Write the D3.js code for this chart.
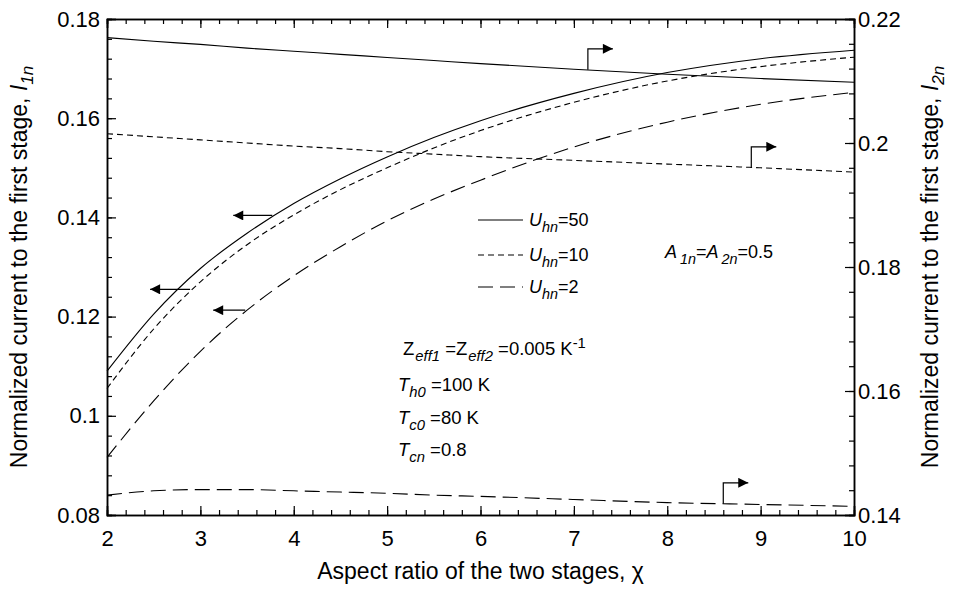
<!DOCTYPE html>
<meta charset="utf-8">
<html lang="en">
<head>
	<title>Normalized current vs aspect ratio</title>
	<script src="https://d3js.org/d3.v7.min.js" charset="utf-8"></script>
	<style>
		body { margin: 0; background: #fff; }
		text { font-family: Arial, "Liberation Sans", sans-serif; fill: #000; }
	</style>
</head>
<body>
	<script>
// data
var xs = [2, 2.5, 3, 3.5, 4, 4.5, 5, 5.5, 6, 7, 8, 9, 10];

// I1n (left axis), one per Uhn
var i1_u50 = [0.109, 0.1205, 0.1297, 0.1368, 0.1428, 0.1478, 0.1522, 0.1561, 0.1595, 0.1650, 0.1692, 0.1720, 0.1737];
var i1_u10 = [0.1055, 0.1175, 0.1270, 0.1345, 0.1405, 0.1456, 0.1500, 0.1540, 0.1575, 0.1632, 0.1675, 0.1704, 0.1723];
var i1_u2  = [0.0916, 0.1030, 0.1130, 0.1213, 0.1282, 0.1341, 0.1393, 0.1437, 0.1475, 0.1542, 0.1592, 0.1628, 0.1652];

// I2n (right axis)
var i2_u50 = [0.2170, 0.2164, 0.2159, 0.2153, 0.2148, 0.2143, 0.2138, 0.2133, 0.2128, 0.2119, 0.2111, 0.2104, 0.2098];
var i2_u10 = [0.2015, 0.2010, 0.2005, 0.2000, 0.1995, 0.1991, 0.1986, 0.1982, 0.1978, 0.1972, 0.1966, 0.1960, 0.1953];
var i2_u2  = [0.1432, 0.1439, 0.1441, 0.1441, 0.1439, 0.1437, 0.1435, 0.1432, 0.1430, 0.1425, 0.1420, 0.1417, 0.1414];

var xTicks = [2, 3, 4, 5, 6, 7, 8, 9, 10];
var yLeftTicks = [0.08, 0.1, 0.12, 0.14, 0.16, 0.18];
var yRightTicks = [0.14, 0.16, 0.18, 0.2, 0.22];

var width = 954, height = 589;
var margin = {top: 19, right: 100, bottom: 74, left: 107};

var svg = d3.select("body").append("svg")
    .attr("width", width)
    .attr("height", height);

var x = d3.scaleLinear().domain([2, 10]).range([margin.left, width - margin.right]);
var yL = d3.scaleLinear().domain([0.08, 0.18]).range([height - margin.bottom, margin.top]);
var yR = d3.scaleLinear().domain([0.14, 0.22]).range([height - margin.bottom, margin.top]);

var fmt = function(d) { return String(+d.toFixed(2)); };

// axes, ticks pointing inward
function minor(scale, step) {
  var d = scale.domain(), out = [];
  for (var v = d[0]; v <= d[1] + 1e-9; v += step) out.push(+v.toFixed(4));
  return out;
}

var gBottom = svg.append("g").attr("transform", "translate(0," + yL.range()[0] + ")");
gBottom.call(d3.axisBottom(x).tickValues(minor(x, 0.2)).tickSize(-5).tickFormat(""));
gBottom.append("g").call(d3.axisBottom(x).tickValues(xTicks).tickSize(-9).tickPadding(15).tickFormat(d3.format("d")));

var gTop = svg.append("g").attr("transform", "translate(0," + margin.top + ")");
gTop.call(d3.axisTop(x).tickValues(minor(x, 0.2)).tickSize(-5).tickFormat(""));
gTop.append("g").call(d3.axisTop(x).tickValues(xTicks).tickSize(-9).tickFormat(""));

var gLeft = svg.append("g").attr("transform", "translate(" + margin.left + ",0)");
gLeft.call(d3.axisLeft(yL).tickValues(minor(yL, 0.004)).tickSize(-5).tickFormat(""));
gLeft.append("g").call(d3.axisLeft(yL).tickValues(yLeftTicks).tickSize(-9).tickPadding(7).tickFormat(fmt));

var gRight = svg.append("g").attr("transform", "translate(" + x.range()[1] + ",0)");
gRight.call(d3.axisRight(yR).tickValues(minor(yR, 0.004)).tickSize(-5).tickFormat(""));
gRight.append("g").call(d3.axisRight(yR).tickValues(yRightTicks).tickSize(-9).tickFormat(fmt));

svg.selectAll(".domain").attr("stroke", "#000").attr("stroke-width", 1.5);
svg.selectAll(".tick line").attr("stroke", "#000").attr("stroke-width", 1.2);
svg.selectAll(".tick text").attr("font-size", 22).attr("fill", "#000")
   .attr("font-family", "Arial, 'Liberation Sans', sans-serif");
gRight.selectAll(".tick text").attr("x", 4);

// curves
var dashes = {u50: null, u10: "6,4", u2: "15,7"};
var series = [
  {v: i1_u50, y: yL, d: dashes.u50},
  {v: i1_u10, y: yL, d: dashes.u10},
  {v: i1_u2,  y: yL, d: dashes.u2},
  {v: i2_u50, y: yR, d: dashes.u50},
  {v: i2_u10, y: yR, d: dashes.u10},
  {v: i2_u2,  y: yR, d: dashes.u2}
];

series.forEach(function(s) {
  var line = d3.line().x((d, i) => x(xs[i])).y(d => s.y(d)).curve(d3.curveMonotoneX);
  svg.append("path")
    .datum(s.v)
    .attr("d", line)
    .attr("fill", "none")
    .attr("stroke", "#000")
    .attr("stroke-width", 1.1)
    .attr("stroke-dasharray", s.d);
});

// arrows
svg.append("defs").append("marker")
    .attr("id", "head")
    .attr("viewBox", "0 0 10 10")
    .attr("refX", 10).attr("refY", 5)
    .attr("markerWidth", 14).attr("markerHeight", 10)
    .attr("markerUnits", "userSpaceOnUse")
    .attr("orient", "auto")
  .append("path").attr("d", "M0,0L10,5L0,10Z").attr("fill", "#000");

// left-pointing arrows start on I1 curves
var leftArrows = [{x: 3.77, v: 0.1404, len: 39}, {x: 2.89, v: 0.1255, len: 40}, {x: 3.48, v: 0.1213, len: 32}];
leftArrows.forEach(function(a) {
  var px = x(a.x), py = yL(a.v);
  svg.append("path")
    .attr("d", "M" + px + "," + py + "H" + (px - a.len))
    .attr("stroke", "#000").attr("stroke-width", 1.2)
    .attr("marker-end", "url(#head)");
});

// hooked arrows start on I2 curves
var hookArrows = [{x: 7.15, v: 0.2118}, {x: 8.9, v: 0.1960}, {x: 8.6, v: 0.1418}];
hookArrows.forEach(function(a) {
  var px = x(a.x), py = yR(a.v);
  svg.append("path")
    .attr("d", "M" + px + "," + py + "V" + (py - 21) + "H" + (px + 25))
    .attr("fill", "none")
    .attr("stroke", "#000").attr("stroke-width", 1.2)
    .attr("marker-end", "url(#head)");
});

// rich text helper: parts = [[text, kind, dx]]
function rich(px, py, parts, size) {
  var t = svg.append("text").attr("x", px).attr("y", py).style("font-size", size + "px");
  var shift = 0;
  parts.forEach(function(p) {
    var s = t.append("tspan").text(p[0]);
    var want = 0;
    if (p[1] && p[1].indexOf("sub") >= 0) { want = 6; s.style("font-size", (size * 0.8) + "px"); }
    if (p[1] && p[1].indexOf("sup") >= 0) { want = -7; s.style("font-size", (size * 0.8) + "px"); }
    if (p[1] && p[1].indexOf("i") === 0) s.style("font-style", "italic");
    s.attr("dy", want - shift);
    if (p[2]) s.attr("dx", p[2]);
    shift = want;
  });
  return t;
}

// legend
var legend = [{name: "50", d: dashes.u50}, {name: "10", d: dashes.u10}, {name: "2", d: dashes.u2}];
var legendY = [220, 255, 287];
legend.forEach(function(l, i) {
  svg.append("line")
    .attr("x1", 478).attr("x2", 523)
    .attr("y1", legendY[i]).attr("y2", legendY[i])
    .attr("stroke", "#000").attr("stroke-width", 1.1)
    .attr("stroke-dasharray", l.d);
  rich(529, legendY[i] + 6, [["U", "i"], ["hn", "i sub"], ["=" + l.name, ""]], 18);
});

rich(665, 258, [["A", "i"], ["1n", "i sub", 3], ["=", ""], ["A", "i"], ["2n", "i sub", 3], ["=0.5", ""]], 18);

rich(403, 355, [["Z", ""], ["eff1", "i sub", 1], [" =Z", ""], ["eff2", "i sub", 1], [" =0.005 K", ""], ["-1", "sup"]], 18.5);
rich(398, 391, [["T", "i"], ["h0", "i sub"], [" =100 K", ""]], 18.5);
rich(398, 424, [["T", "i"], ["c0", "i sub"], [" =80 K", ""]], 18.5);
rich(398, 456, [["T", "i"], ["cn", "i sub"], [" =0.8", ""]], 18.5);

// axis titles
svg.append("text")
    .attr("x", (x.range()[0] + x.range()[1]) / 2)
    .attr("y", 579)
    .attr("text-anchor", "middle")
    .style("font-size", "23px")
    .text("Aspect ratio of the two stages, \u03c7");

var midY = (yL.range()[0] + yL.range()[1]) / 2;
var lt = svg.append("text")
    .attr("transform", "translate(27," + midY + ") rotate(-90)")
    .attr("text-anchor", "middle")
    .style("font-size", "23px");
lt.append("tspan").text("Normalized current to the first stage, ");
lt.append("tspan").text("I").style("font-style", "italic");
lt.append("tspan").text("1n").style("font-style", "italic").style("font-size", "17px").attr("dy", 6);

var rt = svg.append("text")
    .attr("transform", "translate(938," + midY + ") rotate(-90)")
    .attr("text-anchor", "middle")
    .style("font-size", "23px");
rt.append("tspan").text("Normalized current to the first stage, ");
rt.append("tspan").text("I").style("font-style", "italic");
rt.append("tspan").text("2n").style("font-style", "italic").style("font-size", "17px").attr("dy", 6);
	</script>
</body>
</html>
